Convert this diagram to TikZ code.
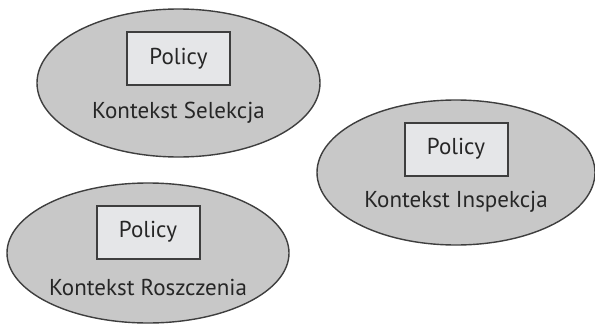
\documentclass[tikz,border=0pt]{standalone}
\usepackage{fontspec}
\setmainfont{PT Sans}
\usetikzlibrary{shapes.geometric}

\definecolor{ctxfill}{RGB}{200,200,200}
\definecolor{boxfill}{RGB}{229,230,232}
\definecolor{edge}{RGB}{62,62,62}

\tikzset{
    context/.style={draw=edge, fill=ctxfill, ellipse, line width=1.4pt, inner sep=0pt},
    policy/.style={draw=edge, fill=boxfill, line width=2pt, minimum width=103pt, minimum height=53pt},
}

\begin{document}
\begin{tikzpicture}[x=1pt, y=-1pt, font=\fontsize{23}{26}\selectfont, text=black!85]
    \useasboundingbox (0,0) rectangle (595,332);
    \foreach \ctx/\cx/\cy/\w/\h/\pos/\lab/\title in {sel/178.5/83/283/148/-24.5/30/Selekcja, insp/456/172.5/278/145/-23.5/29.5/Inspekcja, rosz/148/253/282/140/-21/34/Roszczenia} {
        \node[context, minimum width=\w pt, minimum height=\h pt] (\ctx) at (\cx,\cy) {};
        \node[policy] (\ctx-policy) at (\cx,\cy+\pos) {Policy};
        \node (\ctx-label) at (\cx,\cy+\lab) {Kontekst \title};
    }
\end{tikzpicture}
\end{document}
